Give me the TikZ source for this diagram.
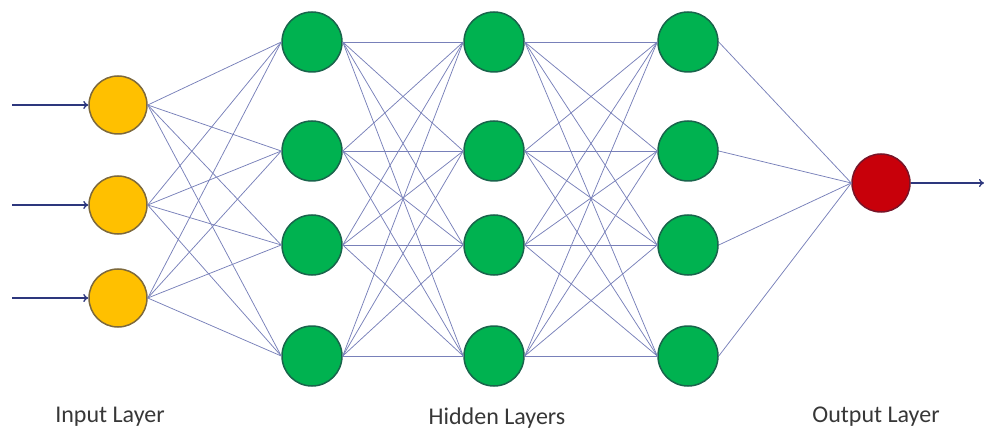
\documentclass[tikz,border=0pt]{standalone}
\usepackage{fontspec}
\setmainfont{Carlito}
\usetikzlibrary{arrows.meta}
\definecolor{edgec}{RGB}{120,128,185}
\definecolor{arrc}{RGB}{45,55,125}
\definecolor{inpfill}{RGB}{255,192,0}
\definecolor{inpdraw}{RGB}{125,105,60}
\definecolor{hidfill}{RGB}{0,178,80}
\definecolor{hiddraw}{RGB}{25,100,75}
\definecolor{outfill}{RGB}{200,0,10}
\definecolor{outdraw}{RGB}{120,20,40}
\definecolor{txtc}{RGB}{55,55,55}
\begin{document}
\begin{tikzpicture}[x=1pt,y=-1pt,
  neuron/.style={circle,minimum size=58pt,inner sep=0pt,line width=1.5pt},
  inp/.style={neuron,fill=inpfill,draw=inpdraw},
  hid/.style={neuron,minimum size=60pt,fill=hidfill,draw=hiddraw},
  outn/.style={neuron,fill=outfill,draw=outdraw},
  conn/.style={draw=edgec,line width=0.75pt},
  arr/.style={draw=arrc,line width=1.3pt,-{To[length=5pt,width=8pt]}},
  lbl/.style={font=\fontsize{24}{28}\selectfont,text=txtc,inner sep=0pt}]
\useasboundingbox (0,0) rectangle (984,430);
% input layer
\foreach \i/\y in {1/105,2/205,3/298}
  \node[inp] (i\i) at (118,\y) {};
% hidden layers
\foreach \l/\x in {1/312,2/494,3/688}
  \foreach \j/\y in {1/42,2/151,3/245,4/356}
    \node[hid] (h\l\j) at (\x,\y) {};
% output
\node[outn] (o) at (881,183) {};
% connections
\foreach \i in {1,2,3}
  \foreach \j in {1,2,3,4}
    \draw[conn] (i\i.east) -- (h1\j.west);
\foreach \i in {1,2,3,4}
  \foreach \j in {1,2,3,4}{
    \draw[conn] (h1\i.east) -- (h2\j.west);
    \draw[conn] (h2\i.east) -- (h3\j.west);
  }
\foreach \i in {1,2,3,4}
  \draw[conn] (h3\i.east) -- (o.west);
% input / output arrows
\foreach \i/\y in {1/105,2/205,3/298}{
  \coordinate (s\i) at (12,\y);
  \draw[arr] (s\i) -- (i\i.west);
}
\coordinate (e) at (984,183);
\draw[arr] (o.east) -- (e);
% labels
\node[lbl,anchor=base] (li) at (110,422) {Input Layer};
\node[lbl,anchor=base] (lh) at (497,424) {Hidden Layers};
\node[lbl,anchor=base] (lo) at (876,422) {Output Layer};
\end{tikzpicture}
\end{document}
